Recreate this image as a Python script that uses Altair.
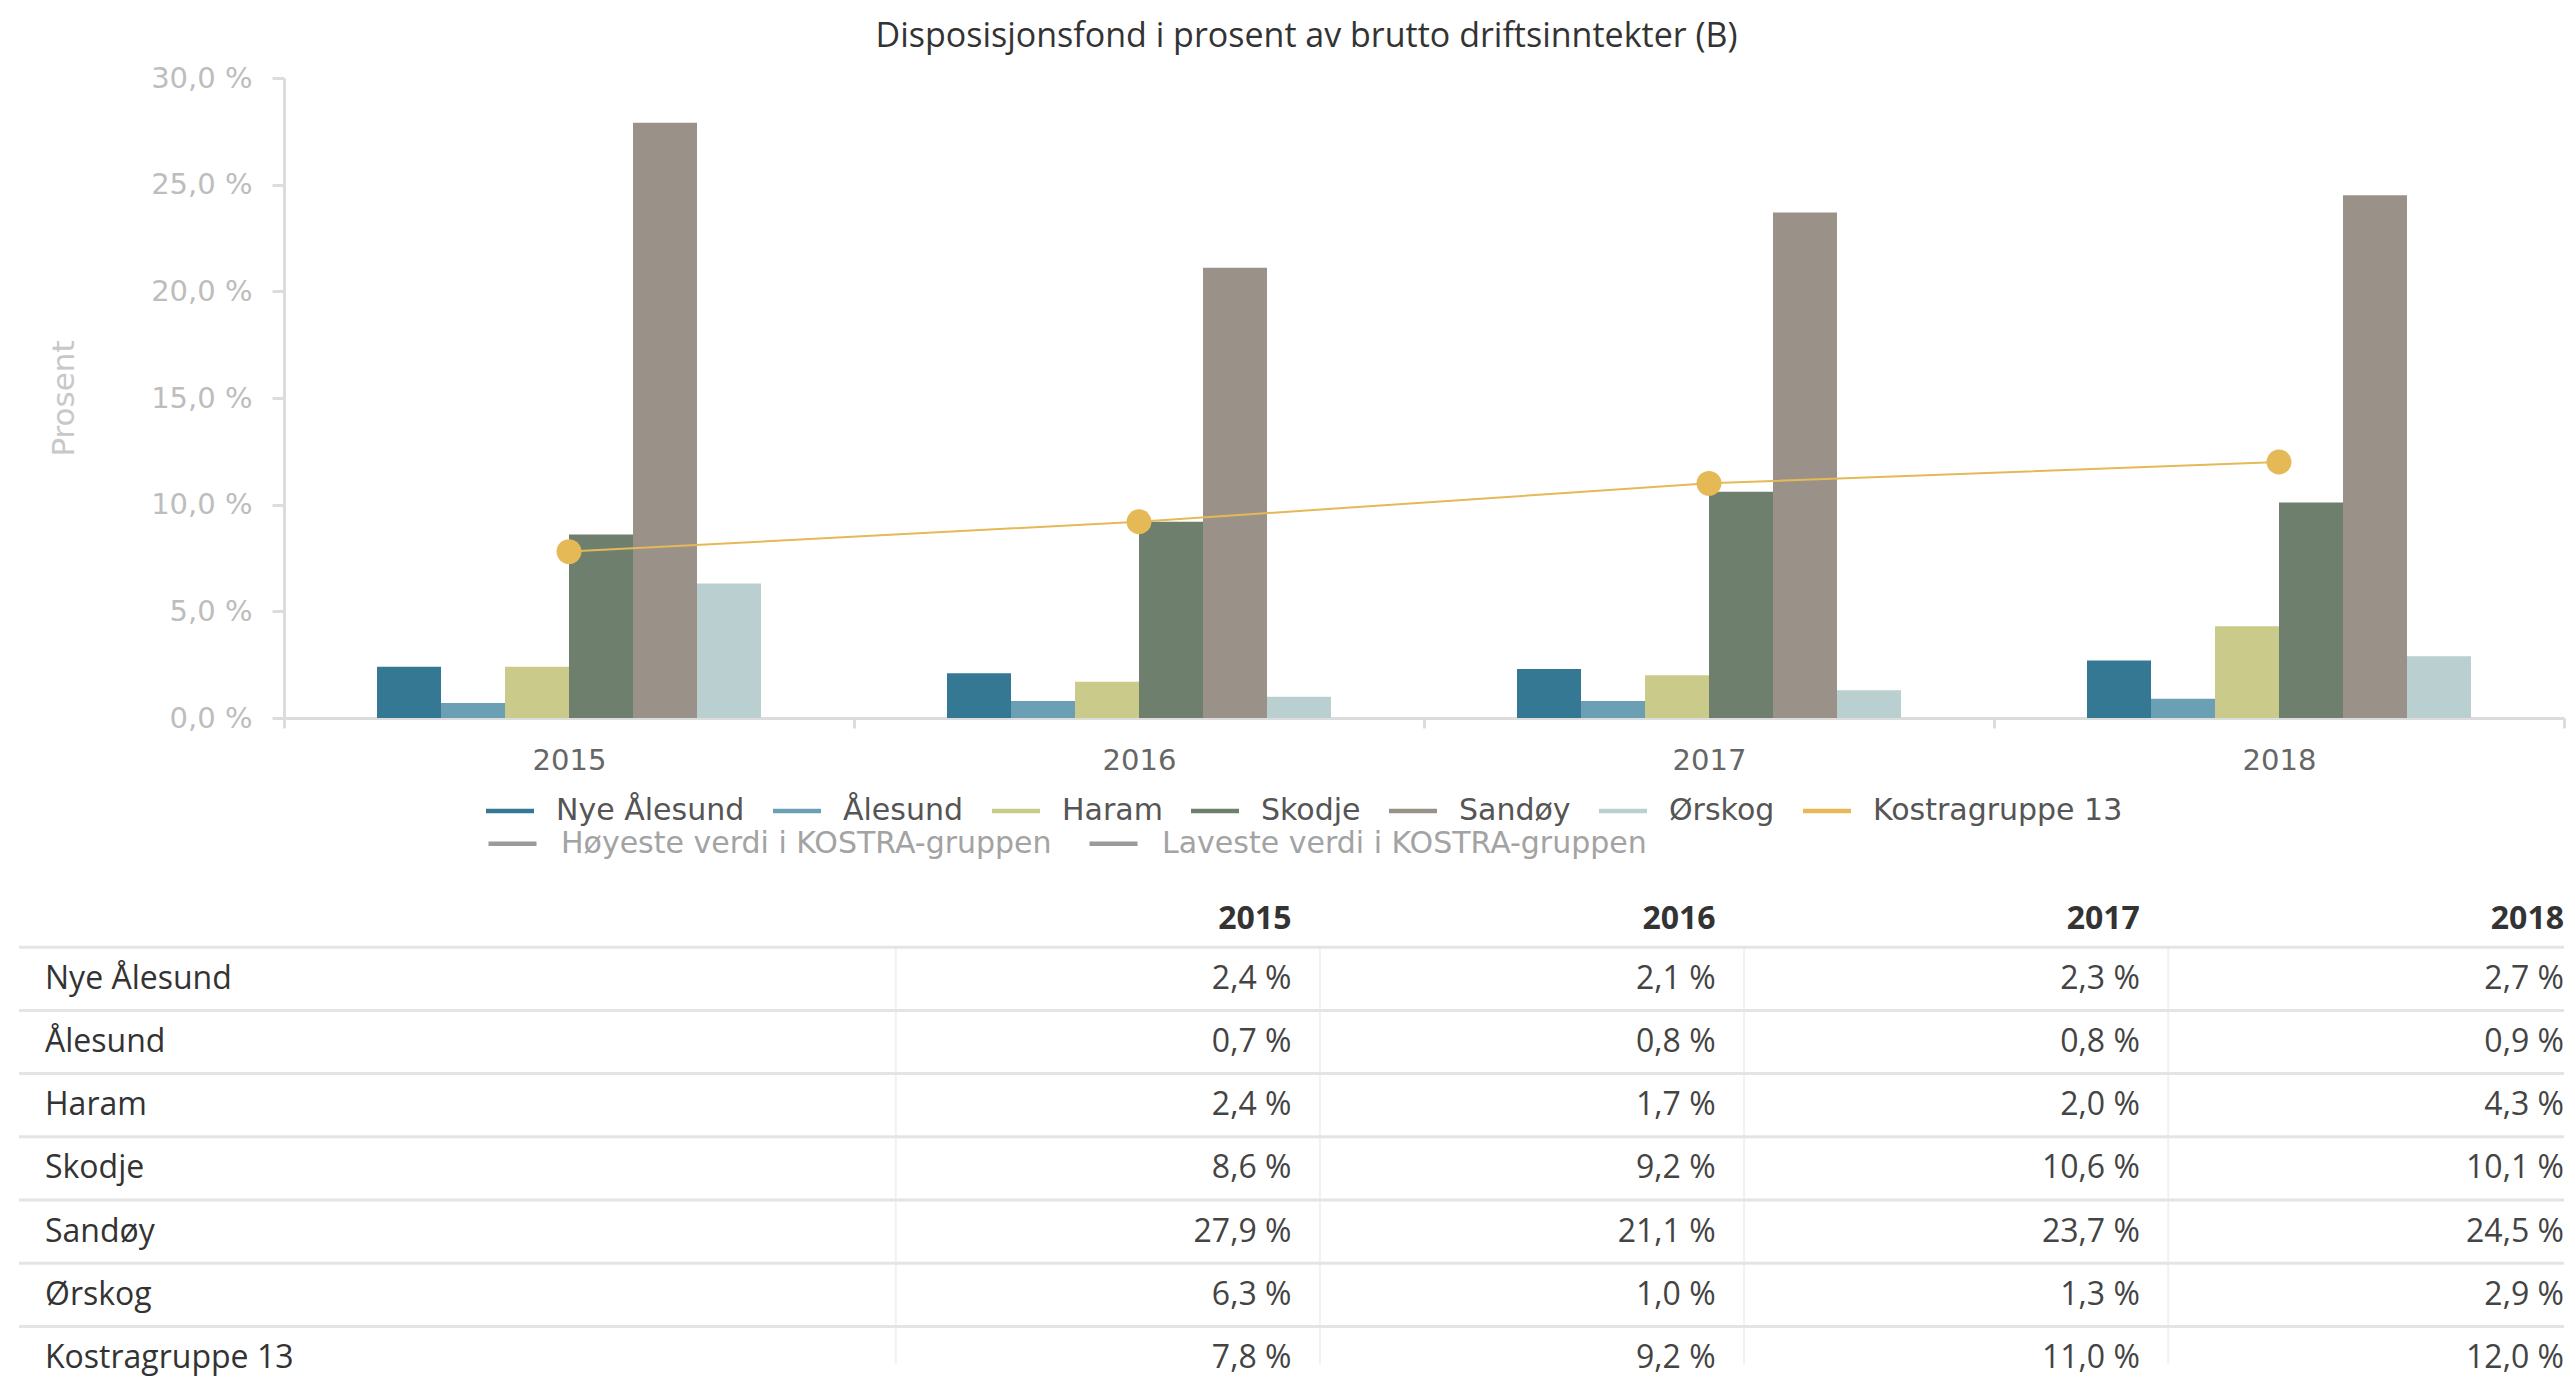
import altair as alt
import pandas as pd

# ---------------- data ----------------
years = ["2015", "2016", "2017", "2018"]
series = ["Nye Ålesund", "Ålesund", "Haram", "Skodje", "Sandøy", "Ørskog"]
nye_alesund = [2.4, 2.1, 2.3, 2.7]
alesund = [0.7, 0.8, 0.8, 0.9]
haram = [2.4, 1.7, 2.0, 4.3]
skodje = [8.6, 9.2, 10.6, 10.1]
sandoy = [27.9, 21.1, 23.7, 24.5]
orskog = [6.3, 1.0, 1.3, 2.9]
kostra_name = "Kostragruppe 13"
kostra = [7.8, 9.2, 11.0, 12.0]
extra_legend = ["Høyeste verdi i KOSTRA-gruppen", "Laveste verdi i KOSTRA-gruppen"]
y_ticks = [0, 5, 10, 15, 20, 25, 30]
title_text = "Disposisjonsfond i prosent av brutto driftsinntekter (B)"
y_title = "Prosent"

series_values = [nye_alesund, alesund, haram, skodje, sandoy, orskog]
colors = ["#357894", "#6b9fb3", "#cacb8b", "#6f7f6d", "#9a9288", "#bacfcf", "#e4b956"]
extra_colors = ["#9a9a9a", "#9a9a9a"]
legend_domain = series + [kostra_name]


def fmt(v):
    return f"{v:.1f}".replace(".", ",") + " %"


bar_df = pd.DataFrame([
    {"year": y, "series": s, "value": v}
    for s, vals in zip(series, series_values)
    for y, v in zip(years, vals)
])
kostra_df = pd.DataFrame({"year": years, "value": kostra, "series": kostra_name})
# series listed in the legend only (no values shown in the chart)
extra_df = pd.DataFrame({"series": pd.Series([], dtype=str)})

# table data
table_rows = series + [kostra_name]
table_values = series_values + [kostra]
row_keys = ["header"] + table_rows
col_keys = ["label", "label2"] + years

header_df = pd.DataFrame({"row": "header", "col": years, "text": years})
label_df = pd.DataFrame({"row": table_rows, "col": "label", "text": table_rows})
value_df = pd.DataFrame([
    {"row": r, "col": y, "text": fmt(v)}
    for r, vals in zip(table_rows, table_values)
    for y, v in zip(years, vals)
])
hline_df = pd.DataFrame({"row": row_keys[:-1], "start": "label", "end": years[-1]})
vline_df = pd.DataFrame({"col": years, "top": table_rows[0], "bottom": table_rows[-1]})

# ---------------- styles ----------------
FONT = "DejaVu Sans"
TFONT = "Open Sans"
AXC = "#dcdcdc"
LEG_X = 202
LEG_Y = 709

color_scale = alt.Scale(domain=legend_domain, range=colors)
x_scale = alt.Scale(domain=years, paddingInner=0, paddingOuter=0)
y_scale = alt.Scale(domain=[0, 30], nice=False)

x_axis = alt.Axis(title=None, labelAngle=0, tickBand="extent", labelFont=FONT,
                  labelFontSize=29, labelColor="#666666", labelPadding=18,
                  tickSize=10, tickWidth=3, tickColor=AXC, domainColor=AXC,
                  domainWidth=3)
y_axis = alt.Axis(title=y_title, values=y_ticks, grid=False,
                  labelExpr="replace(format(datum.value, '.1f'), '.', ',') + ' %'",
                  labelFont=FONT, labelFontSize=29, labelColor="#bdbdbd",
                  labelPadding=20, tickSize=12, tickWidth=3, tickColor=AXC,
                  domainColor=AXC, domainWidth=3, titleFont=FONT,
                  titleFontSize=31, titleFontWeight="normal", titleColor="#c8c8c8",
                  titlePadding=70)

legend_main = alt.Legend(
    title=None, orient="none", legendX=LEG_X, legendY=LEG_Y, direction="horizontal",
    symbolType="M-1,-0.09L1,-0.09L1,0.09L-1,0.09Z",
    symbolSize=2304, symbolStrokeWidth=0, labelFont=FONT, labelFontSize=30,
    labelOffset=22, columnPadding=28, padding=0, labelLimit=0,
    labelColor="#555555",
)
legend_extra = alt.Legend(
    title=None, orient="none", legendX=LEG_X, legendY=LEG_Y + 30,
    direction="horizontal", symbolType="stroke", symbolSize=2304,
    symbolStrokeWidth=4.3, labelFont=FONT, labelFontSize=30, labelOffset=22,
    columnPadding=28, padding=0, labelLimit=0, labelColor="#a3a3a3",
)

bars = alt.Chart(bar_df).mark_bar().encode(
    x=alt.X("year:N", scale=x_scale, axis=x_axis, sort=years),
    xOffset=alt.XOffset("series:N", sort=series,
                        scale=alt.Scale(domain=series, paddingInner=0,
                                        paddingOuter=0, range=[93, 477])),
    y=alt.Y("value:Q", scale=y_scale, axis=y_axis),
    color=alt.Color("series:N", scale=color_scale, legend=legend_main),
)
line = alt.Chart(kostra_df).mark_line(color="#e4b956", strokeWidth=2).encode(
    x=alt.X("year:N", scale=x_scale, sort=years),
    y=alt.Y("value:Q", scale=y_scale),
)
points = alt.Chart(kostra_df).mark_circle(color="#e4b956", opacity=1, size=620).encode(
    x=alt.X("year:N", scale=x_scale, sort=years),
    y=alt.Y("value:Q", scale=y_scale),
)
extra = alt.Chart(extra_df).mark_rule().encode(
    stroke=alt.Stroke("series:N",
                      scale=alt.Scale(domain=extra_legend, range=extra_colors),
                      legend=legend_extra),
)
top = alt.layer(bars, line, points, extra)

# ---------------- table ----------------
ROW_STEP = 63.2
tx = alt.Scale(type="band", domain=col_keys, range=[-265, 2280],
               paddingInner=0, paddingOuter=0)
ty = alt.Scale(type="band", domain=row_keys,
               range=[806, 806 + len(row_keys) * ROW_STEP],
               paddingInner=0, paddingOuter=0)

hlines = alt.Chart(hline_df).mark_rule(color="#e4e4e4", strokeWidth=3).encode(
    x=alt.X("start:N", scale=tx, axis=None, bandPosition=0),
    x2=alt.X2("end:N", bandPosition=1),
    y=alt.Y("row:N", scale=ty, axis=None, bandPosition=1),
)
vlines = alt.Chart(vline_df).mark_rule(color="#f1f1f1", strokeWidth=2).encode(
    x=alt.X("col:N", scale=tx, axis=None, bandPosition=0.067),
    y=alt.Y("top:N", scale=ty, axis=None, bandPosition=0),
    y2=alt.Y2("bottom:N", bandPosition=0.6),
)
header = alt.Chart(header_df).mark_text(
    align="right", baseline="middle", font=TFONT, fontSize=32, fontWeight="bold",
    color="#333333", dy=3).encode(
    x=alt.X("col:N", scale=tx, axis=None, bandPosition=1),
    y=alt.Y("row:N", scale=ty, axis=None),
    text="text:N",
)
labels = alt.Chart(label_df).mark_text(
    align="left", baseline="middle", font=TFONT, fontSize=32, color="#333333",
    dx=26).encode(
    x=alt.X("col:N", scale=tx, axis=None, bandPosition=0),
    y=alt.Y("row:N", scale=ty, axis=None),
    text="text:N",
)
values = alt.Chart(value_df).mark_text(
    align="right", baseline="middle", font=TFONT, fontSize=32,
    color="#444444").encode(
    x=alt.X("col:N", scale=tx, axis=None, bandPosition=1),
    y=alt.Y("row:N", scale=ty, axis=None),
    text="text:N",
)
table = alt.layer(vlines, hlines, header, labels, values)

chart = alt.layer(top, table).resolve_scale(
    x="independent", y="independent"
).properties(
    width=2280,
    height=640,
    padding={"left": 9, "top": 12, "right": 0, "bottom": 10},
    background="#ffffff",
    title=alt.TitleParams(text=title_text, font=TFONT, fontSize=34,
                          fontWeight="normal", color="#333333", anchor="middle",
                          frame="bounds", offset=10, dx=15),
).configure_view(strokeWidth=0)

chart.save("out.html", embed_options={"renderer": "svg", "actions": False})
